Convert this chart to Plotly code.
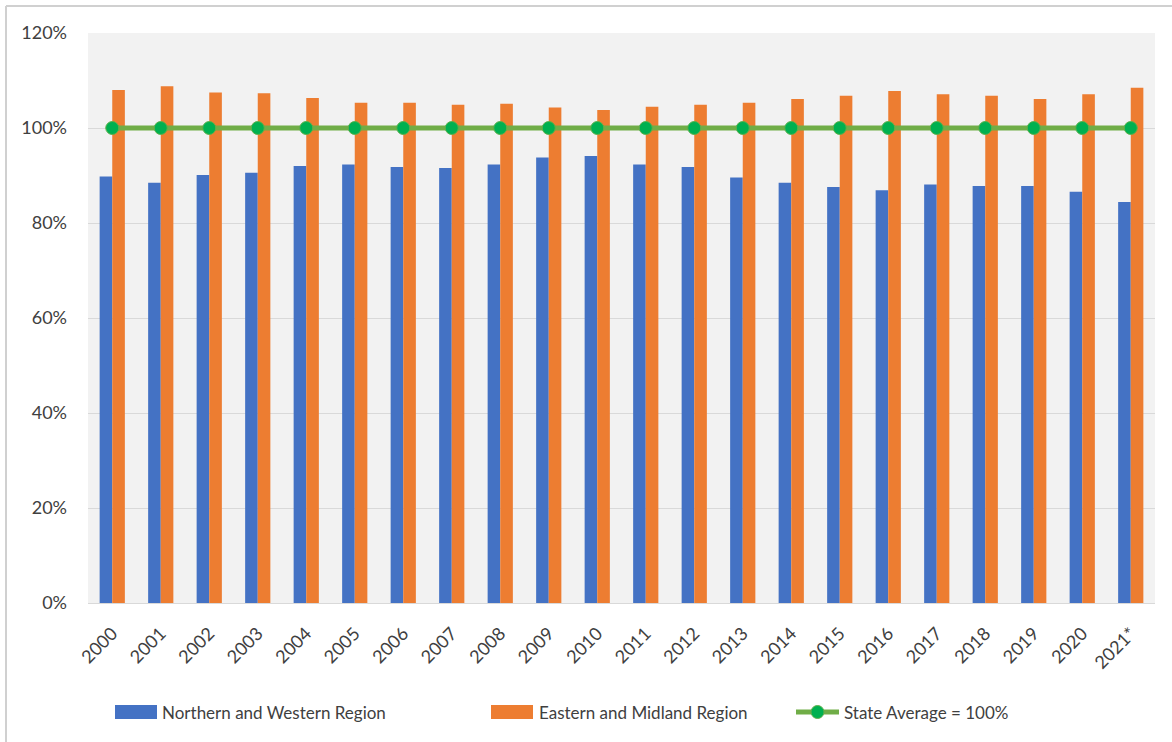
import plotly.graph_objects as go

# Years shown on the category axis
years = ["2000", "2001", "2002", "2003", "2004", "2005", "2006", "2007", "2008", "2009",
         "2010", "2011", "2012", "2013", "2014", "2015", "2016", "2017", "2018", "2019",
         "2020", "2021*"]

# Regional value as a percentage of the State average
northern_western = [89.8, 88.5, 90.1, 90.6, 92.0, 92.3, 91.8, 91.6, 92.3, 93.8,
                    94.1, 92.3, 91.8, 89.6, 88.5, 87.6, 86.9, 88.1, 87.8, 87.8,
                    86.6, 84.4]
eastern_midland = [108.0, 108.8, 107.5, 107.3, 106.3, 105.3, 105.3, 104.9, 105.1, 104.3,
                   103.8, 104.5, 104.9, 105.3, 106.1, 106.8, 107.8, 107.1, 106.8, 106.1,
                   107.1, 108.5]
state_average = [100] * len(years)

y_ticks = [0, 20, 40, 60, 80, 100, 120]

series_names = ["Northern and Western Region", "Eastern and Midland Region", "State Average = 100%"]

BLUE = "#4472C4"
ORANGE = "#ED7D31"
LINE_GREEN = "#70AD47"
MARKER_GREEN = "#00B050"
TEXT = "#404040"
FONT = "Lato, 'Open Sans', sans-serif"

fig = go.Figure()
fig.add_trace(go.Bar(x=years, y=northern_western, name=series_names[0],
                     marker=dict(color=BLUE, line=dict(width=0))))
fig.add_trace(go.Bar(x=years, y=eastern_midland, name=series_names[1],
                     marker=dict(color=ORANGE, line=dict(width=0))))
fig.add_trace(go.Scatter(x=years, y=state_average, name=series_names[2], mode="lines+markers",
                         line=dict(color=LINE_GREEN, width=5),
                         marker=dict(color=MARKER_GREEN, size=13,
                                     line=dict(color="#5DB04A", width=1))))

W, H = 1172, 742
L, R, T, B = 88, 17, 33, 139
pw, ph = W - L - R, H - T - B


def px(x):
    return (x - L) / pw


def py(y):
    return (H - B - y) / ph


shapes = [
    # outer frame of the chart area (left and top edges)
    dict(type="line", xref="paper", yref="paper", x0=px(6), x1=px(6), y0=py(6), y1=py(742),
         line=dict(color="#D0D0D0", width=2)),
    dict(type="line", xref="paper", yref="paper", x0=px(6), x1=px(1172), y0=py(6), y1=py(6),
         line=dict(color="#D0D0D0", width=2)),
    # legend swatches
    dict(type="rect", xref="paper", yref="paper", x0=px(115), x1=px(157), y0=py(705), y1=py(719),
         fillcolor=BLUE, line=dict(width=0)),
    dict(type="rect", xref="paper", yref="paper", x0=px(491), x1=px(533), y0=py(705), y1=py(719),
         fillcolor=ORANGE, line=dict(width=0)),
    dict(type="line", xref="paper", yref="paper", x0=px(796), x1=px(839), y0=py(712), y1=py(712),
         line=dict(color=LINE_GREEN, width=5)),
    dict(type="circle", xref="paper", yref="paper", x0=px(811), x1=px(824), y0=py(705.5), y1=py(718.5),
         fillcolor=MARKER_GREEN, line=dict(color="#5DB04A", width=1)),
]

legend_text_x = [160, 537, 842]
annotations = [
    dict(text=name, xref="paper", yref="paper", x=px(x), y=py(712), xanchor="left", yanchor="middle",
         showarrow=False, font=dict(family=FONT, size=17, color=TEXT))
    for name, x in zip(series_names, legend_text_x)
]

fig.update_layout(
    width=W, height=H,
    margin=dict(l=L, r=R, t=T, b=B, autoexpand=False),
    paper_bgcolor="white",
    plot_bgcolor="#F2F2F2",
    barmode="group",
    bargap=0.48,
    bargroupgap=0,
    showlegend=False,
    font=dict(family=FONT, size=17, color=TEXT),
    shapes=shapes,
    annotations=annotations,
)
fig.update_xaxes(
    type="category",
    range=[-0.5, len(years) - 0.5],
    tickangle=-45,
    tickfont=dict(family=FONT, size=18, color=TEXT),
    showgrid=False,
    showline=True, linecolor="#D9D9D9", linewidth=1,
    ticks="", ticklabelstandoff=12,
)
fig.update_yaxes(
    range=[0, 120],
    tickvals=y_ticks,
    ticktext=[f"{v}%" for v in y_ticks],
    tickfont=dict(family=FONT, size=18, color=TEXT),
    showgrid=True, gridcolor="#D9D9D9", gridwidth=1,
    zeroline=False,
    showline=False,
    ticks="", ticklabelstandoff=20,
)

fig.write_html("out.html")
